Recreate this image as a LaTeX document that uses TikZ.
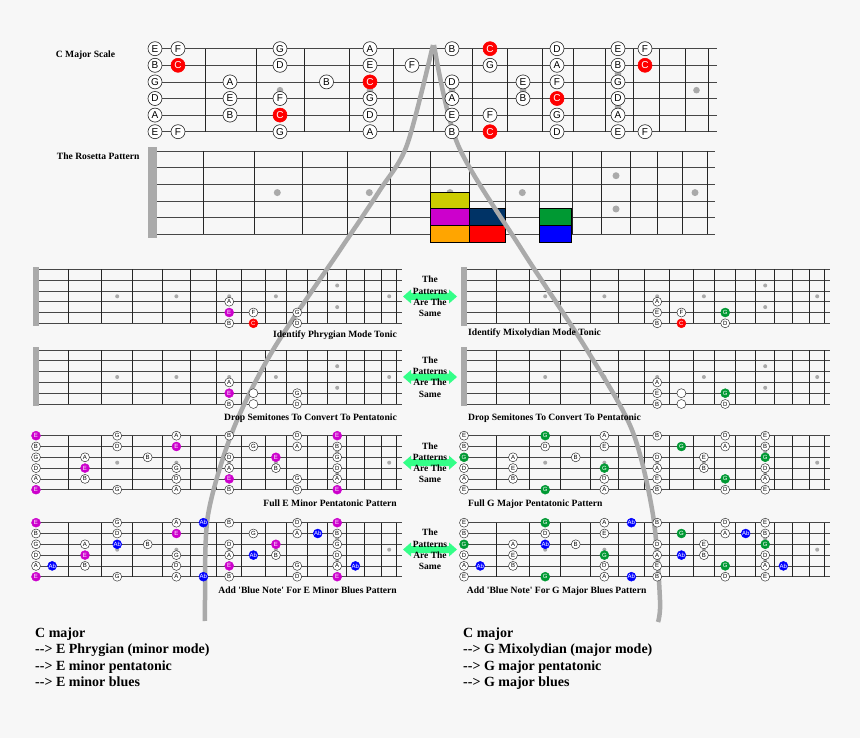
\documentclass[tikz,border=0pt]{standalone}
\usepackage{fontspec}
\setmainfont{Liberation Serif}[Ligatures=TeXOff]
\setsansfont{Liberation Sans}

\definecolor{bgpage}{RGB}{247,247,247}
\definecolor{dotc}{RGB}{170,170,170}
\definecolor{emag}{RGB}{204,0,204}
\definecolor{ggreen}{RGB}{0,153,51}
\definecolor{cred}{RGB}{255,0,0}
\definecolor{abblue}{RGB}{0,0,255}
\definecolor{rosyel}{RGB}{204,204,0}
\definecolor{rosnavy}{RGB}{0,51,102}
\definecolor{rosorange}{RGB}{255,165,0}
\definecolor{samegreen}{RGB}{51,255,136}

% note centres per fret (small boards / top board)
\def\cellx{{36,52.2,85,117.2,147.7,176.4,203.4,229.2,253.4,275.9,297.2,317.7,337.2,355.4,372.9,389.2}}
\def\topx{{155,178,230,280,326.5,370,412,452,490,523,557,589,618,645}}
\def\fretx{68.3,101.7,132.7,162.7,190,216.7,241.7,265,286.7,307.7,327.7,346.7,364,381.7,396.7}
\def\pentalist{0/1/E,0/2/B,0/3/G,0/4/D,0/5/A,0/6/E,2/3/A,2/4/E,2/5/B,3/1/G,3/2/D,3/6/G,4/3/B,
  5/1/A,5/2/E,5/4/G,5/5/D,5/6/A,7/1/B,7/3/D,7/4/A,7/5/E,7/6/B,8/2/G,9/3/E,9/4/B,
  10/1/D,10/2/A,10/5/G,10/6/D,12/1/E,12/2/B,12/3/G,12/4/D,12/5/A,12/6/E}
\def\bluelist{1/5/Ab,3/3/Ab,6/1/Ab,6/6/Ab,8/4/Ab,11/2/Ab,13/5/Ab}
\newcommand\putnotes[1]{%
  \foreach \fr/\st/\nm in #1 {
    \pgfmathsetmacro\px{\cellx[\fr]}
    \node[nt, tag \nm] (n-\fr-\st) at (\px,{(\st-1)*10.8}) {\nm};
  }}

\begin{document}
\begin{tikzpicture}[x=1pt, y=-1pt,
  string/.style={draw=black!72, line width=0.7pt},
  fret/.style={draw=black!85, line width=0.8pt},
  inlay/.style={fill=dotc},
  nutbar/.style={fill=dotc},
  big/.style={circle, draw=black!85, fill=white, line width=0.6pt, inner sep=0pt,
    minimum size=14pt, font=\sffamily\fontsize{10}{10}\selectfont},
  nt/.style={circle, draw=black!85, fill=white, line width=0.45pt, inner sep=0pt,
    minimum size=9pt, font=\sffamily\fontsize{6}{6}\selectfont},
  hlE/.style={fill=emag, draw=emag, text=white},
  hlG/.style={fill=ggreen, draw=ggreen, text=white},
  hlC/.style={fill=cred, draw=cred, text=white},
  tag A/.style={}, tag B/.style={}, tag C/.style={}, tag D/.style={},
  tag E/.style={}, tag F/.style={}, tag G/.style={},
  tag Ab/.style={fill=abblue, draw=abblue, text=white},
  box/.style={draw=black, line width=1pt},
  lbl/.style={font=\bfseries\fontsize{9.6}{11}\selectfont, inner sep=0pt},
  samelbl/.style={font=\bfseries\fontsize{9.5}{11.3}\selectfont, align=center, inner sep=0pt},
  summary/.style={font=\bfseries\fontsize{14}{16.5}\selectfont, align=left, inner sep=0pt, anchor=north west},
  curve/.style={draw=dotc, line width=4.5pt},
]
\fill[bgpage] (0,0) rectangle (860,738);
\useasboundingbox (0,0) rectangle (860,738);

% C major scale over the neck
\node[lbl, anchor=west] (scale) at (55.7,55) {C Major Scale};
\foreach \s in {0,...,5} \draw[string] (155,48.7+\s*16.6) -- (717,48.7+\s*16.6);
\foreach \f in {205,256,304,349,393,433,472,507,542,573,605,633,659,685,708}
  \draw[fret] (\f,48.7) -- (\f,131.7);
\foreach \d in {280,370,452,523,696.5} \fill[inlay] (\d,90.2) circle (3.3);
\fill[inlay] (618,73.6) circle (3.3) (618,106.8) circle (3.3);

% rosetta board
\node[lbl, anchor=west] (rosetta) at (56.7,156.7) {The Rosetta Pattern};
\fill[nutbar] (148.3,146.7) rectangle (157.3,238.3);
\foreach \s in {0,...,5} \draw[string] (157,151+\s*16.66) -- (715,151+\s*16.66);
\foreach \f in {203.3,254,302.7,347.3,390.7,430.7,469.3,505,539.3,572.3,601.7,630,657.3,682.7,707.3}
  \draw[fret] (\f,151) -- (\f,234.3);
\foreach \d in {277.3,369.3,450,522.3,695} \fill[inlay] (\d,192.6) circle (3.5);
\fill[inlay] (616,175.7) circle (3.5) (616,209) circle (3.5);
\draw[box, fill=rosyel] (430.7,192.3) rectangle (469.3,209);
\draw[box, fill=emag] (430.7,209) rectangle (469.3,225.7);
\draw[box, fill=rosorange] (430.7,225.7) rectangle (469.3,242.3);
\draw[box, fill=rosnavy] (469.3,209) rectangle (505,225.7);
\draw[box, fill=cred] (469.3,225.7) rectangle (505,242.3);
\draw[box, fill=ggreen] (539.3,209) rectangle (571.7,225.7);
\draw[box, fill=abblue] (539.3,225.7) rectangle (571.7,242.3);

% small boards, two columns
\foreach \ox in {0,428} \foreach \oy in {269.3,350,435.7,522.7} {
  \begin{scope}[shift={(\ox,\oy)}]
    \foreach \s in {0,...,5} \draw[string] (36,\s*10.8) -- (401.7,\s*10.8);
    \foreach \f in \fretx \draw[fret] (\f,0) -- (\f,54);
    \foreach \d in {117.2,176.4,229.2,275.9,389.2} \fill[inlay] (\d,27) circle (2);
    \fill[inlay] (337.2,16.2) circle (2) (337.2,37.8) circle (2);
  \end{scope}
}
\foreach \ox in {0,428} \foreach \oy in {269.3,350}
  \fill[nutbar] (33+\ox,\oy-2.6) rectangle (39+\ox,\oy+56.4);

% the two paths
\draw[curve] plot[smooth] coordinates {(433,45) (407,145) (380,190) (340,250) (273,350)
  (233,430) (208,515) (205,600) (205,621)};
\draw[curve] plot[smooth] coordinates {(434,45) (458,145) (522,250) (587,350) (632,430)
  (653,515) (660,600) (658,622)};

% notes
\begin{scope}[tag C/.style=hlC]
  \foreach \fr/\st/\nm in {0/1/E,0/2/B,0/3/G,0/4/D,0/5/A,0/6/E,1/1/F,1/2/C,1/6/F,
    2/3/A,2/4/E,2/5/B,3/1/G,3/2/D,3/4/F,3/5/C,3/6/G,4/3/B,
    5/1/A,5/2/E,5/3/C,5/4/G,5/5/D,5/6/A,6/2/F,7/1/B,7/3/D,7/4/A,7/5/E,7/6/B,
    8/1/C,8/2/G,8/5/F,8/6/C,9/3/E,9/4/B,10/1/D,10/2/A,10/3/F,10/4/C,10/5/G,10/6/D,
    12/1/E,12/2/B,12/3/G,12/4/D,12/5/A,12/6/E,13/1/F,13/2/C,13/6/F} {
    \pgfmathsetmacro\px{\topx[\fr]}
    \node[big, tag \nm] (t-\fr-\st) at (\px,{48.7+(\st-1)*16.6}) {\nm};
  }
\end{scope}
\begin{scope}[shift={(0,269.3)}, tag E/.style=hlE, tag C/.style=hlC]
  \putnotes{{7/4/A,7/5/E,7/6/B,8/5/F,8/6/C,10/5/G,10/6/D}}
\end{scope}
\begin{scope}[shift={(428,269.3)}, tag G/.style=hlG, tag C/.style=hlC]
  \putnotes{{7/4/A,7/5/E,7/6/B,8/5/F,8/6/C,10/5/G,10/6/D}}
\end{scope}
\begin{scope}[shift={(0,350)}, tag E/.style=hlE]
  \putnotes{{7/4/A,7/5/E,7/6/B,10/5/G,10/6/D}}
  \node[nt] (gapL1) at (253.4,43.2) {};
  \node[nt] (gapL2) at (253.4,54) {};
\end{scope}
\begin{scope}[shift={(428,350)}, tag G/.style=hlG]
  \putnotes{{7/4/A,7/5/E,7/6/B,10/5/G,10/6/D}}
  \node[nt] (gapR1) at (253.4,43.2) {};
  \node[nt] (gapR2) at (253.4,54) {};
\end{scope}
\begin{scope}[shift={(0,435.7)}, tag E/.style=hlE]
  \putnotes\pentalist
\end{scope}
\begin{scope}[shift={(428,435.7)}, tag G/.style=hlG]
  \putnotes\pentalist
\end{scope}
\begin{scope}[shift={(0,522.7)}, tag E/.style=hlE]
  \putnotes\pentalist
  \putnotes\bluelist
\end{scope}
\begin{scope}[shift={(428,522.7)}, tag G/.style=hlG]
  \putnotes\pentalist
  \putnotes\bluelist
\end{scope}

% arrows between the columns
\foreach \cy [count=\i] in {296.5,377,462.7,549.5} {
  \fill[samegreen] (403,\cy) -- (411,\cy-7) -- (411,\cy-3.5) -- (449,\cy-3.5) -- (449,\cy-7)
    -- (457,\cy) -- (449,\cy+7) -- (449,\cy+3.5) -- (411,\cy+3.5) -- (411,\cy+7) -- cycle;
  \node[samelbl] (same\i) at (430,\cy) {The\\Patterns\\Are The\\Same};
}

% captions
\node[lbl, anchor=east] (capL1) at (397,335.5) {Identify Phrygian Mode Tonic};
\node[lbl, anchor=west] (capR1) at (468,333.5) {Identify Mixolydian Mode Tonic};
\node[lbl, anchor=east] (capL2) at (397,418.3) {Drop Semitones To Convert To Pentatonic};
\node[lbl, anchor=west] (capR2) at (468,418) {Drop Semitones To Convert To Pentatonic};
\node[lbl, anchor=east] (capL3) at (397,503.3) {Full E Minor Pentatonic Pattern};
\node[lbl, anchor=west] (capR3) at (468,504) {Full G Major Pentatonic Pattern};
\node[lbl, anchor=east] (capL4) at (397,590) {Add 'Blue Note' For E Minor Blues Pattern};
\node[lbl, anchor=west] (capR4) at (466.7,591) {Add 'Blue Note' For G Major Blues Pattern};

\node[summary] (sumL) at (35,627.5) {C major\\--> E Phrygian (minor mode)\\--> E minor pentatonic\\--> E minor blues};
\node[summary] (sumR) at (463,627.5) {C major\\--> G Mixolydian (major mode)\\--> G major pentatonic\\--> G major blues};
\end{tikzpicture}
\end{document}
